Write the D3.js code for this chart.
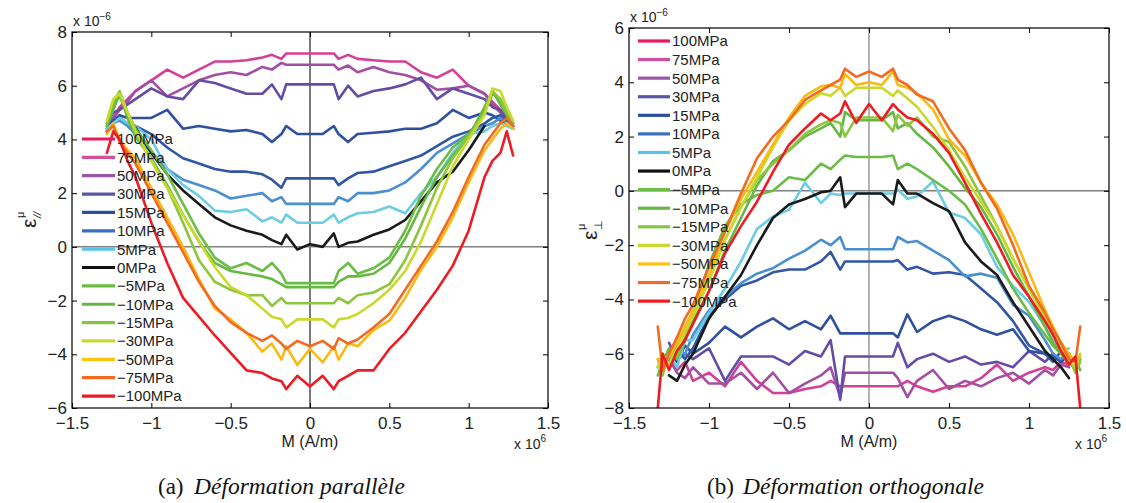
<!DOCTYPE html>
<html><head><meta charset="utf-8">
<script src="https://cdn.jsdelivr.net/npm/d3@7"></script>
<style>
body{margin:0;background:#fff;}
svg{display:block;font-family:"Liberation Sans",Arial,Helvetica,sans-serif;}
</style>
</head><body>
<svg id="chart" width="1126" height="503"></svg>
<script>
// ---------- categories / labels ----------
const seriesLabels = ["100MPa","75MPa","50MPa","30MPa","15MPa","10MPa","5MPa","0MPa",
  "\u22125MPa","\u221210MPa","\u221215MPa","\u221230MPa","\u221250MPa","\u221275MPa","\u2212100MPa"];
const legendColors = ["#e8195e","#d24f9f","#9b55a8","#5a55a5","#2c4ea0","#3a6fc0","#55c5ec","#111111",
  "#6cbd45","#66b843","#86c440","#c7d92f","#fcc30f","#f26a23","#ed1c24"];
const curveColors = ["#d43f98","#a24fa3","#634ca6","#2f4fa0","#3056a8","#4a8fd0","#6ccde2","#1a1a1a",
  "#6abd45","#66b843","#8cc63f","#c9d92a","#fbb914","#f26b21","#ed1c24"];
const xTickValues = [-1.5,-1,-0.5,0,0.5,1,1.5];
const yTicksPar = [-6,-4,-2,0,2,4,6,8];
const yTicksOrth = [-8,-6,-4,-2,0,2,4,6];

// ---------- (a) parallel strain, M in 1e6 A/m, eps in 1e-6 ----------
const mPar = [-1.28,-1.24,-1.2,-1.15,-1.1,-1.0,-0.9,-0.8,-0.7,-0.6,-0.5,-0.4,-0.3,-0.24,-0.18,-0.15,-0.08,0,0.08,0.15,0.18,0.24,0.3,0.4,0.5,0.6,0.7,0.8,0.9,1.0,1.1,1.15,1.2,1.24,1.28];
const par100 = [4.5,4.8,5.2,5.5,5.8,6.2,6.6,6.3,6.6,6.9,6.9,6.95,7.05,7.15,7.0,7.2,7.2,7.2,7.2,7.2,7.0,7.15,7.0,6.95,6.9,6.9,6.5,6.3,6.6,6.0,5.7,5.4,5.1,4.8,4.5];
const par75 = [4.4,4.8,5.1,5.4,5.8,6.2,5.6,5.9,6.2,6.4,6.5,6.4,6.7,6.6,6.85,6.78,6.78,6.78,6.78,6.78,6.6,6.75,6.5,6.7,6.5,6.4,6.2,5.85,5.9,6.0,5.7,5.3,5.0,4.8,4.5];
const par50 = [4.6,5.0,5.1,5.3,5.5,5.9,5.6,5.5,6.2,6.1,5.9,5.7,5.7,6.05,5.5,6.05,6.05,6.05,6.05,6.05,5.5,6.0,5.6,5.8,5.9,6.05,6.3,5.5,5.9,5.7,5.5,5.2,5.1,4.8,4.6];
const par30 = [4.4,4.7,4.9,4.8,4.8,4.8,5.1,4.4,4.5,4.4,4.3,4.35,4.2,3.9,4.2,4.5,4.2,4.2,4.2,4.5,4.2,3.9,4.2,4.25,4.3,4.4,4.4,4.6,5.1,4.8,5.0,4.9,4.7,4.6,4.4];
const par15 = [4.3,4.6,4.8,4.6,4.5,4.2,3.7,3.3,3.1,2.9,2.8,2.8,2.7,2.5,2.2,2.55,2.55,2.55,2.55,2.55,2.3,2.55,2.75,2.8,3.0,3.2,3.4,3.75,4.1,4.3,4.6,4.8,4.9,4.7,4.5];
const par10 = [4.4,4.6,4.7,4.5,4.2,3.5,2.9,2.5,2.3,2.1,1.8,1.9,2.0,1.7,1.85,1.6,1.6,1.6,1.6,1.6,1.85,1.7,2.0,2.0,2.1,2.4,2.9,3.5,3.85,4.2,4.5,4.6,4.8,4.6,4.4];
const par5 = [4.4,4.6,4.8,4.6,4.5,4.0,2.9,2.3,1.9,1.35,1.3,1.4,0.95,1.1,0.9,1.2,0.9,0.9,0.9,1.2,0.9,1.1,1.25,1.3,1.5,1.25,2.0,2.6,3.5,4.2,4.3,4.5,4.6,4.5,4.4];
const par0 = [null,null,null,null,4.45,3.5,2.7,2.1,1.6,1.1,0.8,0.6,0.45,0.25,0.1,0.45,-0.1,0.1,0.0,0.5,0.0,0.15,0.2,0.45,0.65,1.0,1.7,2.4,2.8,3.6,4.5,null,null,null,null];
const parM5 = [4.6,5.3,5.6,5.0,4.4,3.6,2.7,1.6,0.5,-0.4,-0.8,-0.6,-0.9,-0.6,-1.0,-1.35,-1.35,-1.35,-1.35,-1.35,-0.9,-0.6,-1.0,-0.8,-0.4,0.6,1.9,2.9,3.7,4.2,5.0,5.7,5.5,5.0,4.6];
const parM10 = [4.5,5.1,5.7,4.8,4.1,3.3,2.3,1.2,0.2,-0.6,-0.9,-1.0,-1.1,-1.2,-1.4,-1.5,-1.5,-1.5,-1.5,-1.5,-1.3,-1.1,-1.1,-1.0,-0.6,0.3,1.5,2.6,3.4,4.1,5.2,5.8,5.3,4.9,4.5];
const parM15 = [4.6,5.4,5.8,5.0,4.3,3.2,2.2,0.9,-0.5,-1.3,-1.6,-1.8,-1.8,-2.2,-1.9,-2.1,-2.1,-2.1,-2.1,-2.1,-1.9,-2.1,-1.8,-1.7,-1.4,-0.5,0.8,2.2,3.3,4.1,5.0,5.8,5.5,5.0,4.6];
const parM30 = [4.7,5.5,5.7,5.0,4.3,3.2,2.2,1.2,0.2,-0.75,-1.5,-1.8,-2.3,-2.6,-2.7,-3.0,-2.7,-2.7,-2.7,-3.0,-2.7,-2.65,-2.5,-2.1,-1.6,-0.9,0.2,1.6,3.0,4.0,4.9,5.9,5.8,5.2,4.7];
const parM50 = [4.2,4.6,4.0,3.6,3.3,2.2,1.1,0.0,-1.2,-2.3,-2.7,-3.2,-3.9,-3.6,-4.2,-3.7,-4.4,-3.8,-4.3,-3.7,-4.2,-3.6,-3.7,-3.1,-2.75,-1.9,-0.85,0.0,1.1,2.4,3.6,4.0,4.4,4.6,4.4];
const parM75 = [4.3,4.5,3.9,3.5,3.1,2.0,0.9,-0.2,-1.3,-2.2,-2.8,-3.2,-3.5,-3.3,-3.6,-3.8,-3.5,-3.7,-3.5,-3.8,-3.4,-3.6,-3.45,-3.0,-2.5,-1.6,-0.7,0.2,1.3,2.6,3.8,4.2,4.6,4.8,4.5];
const parM100 = [3.5,4.3,4.0,3.2,2.6,0.9,-0.6,-1.9,-2.6,-3.3,-3.95,-4.6,-4.7,-4.9,-5.0,-5.3,-4.8,-5.2,-4.8,-5.3,-5.0,-4.8,-4.6,-4.6,-3.8,-3.2,-2.4,-1.6,-0.7,0.6,2.6,3.2,3.5,4.3,3.4];

// ---------- (b) orthogonal strain ----------
const mOrth = [-1.32,-1.29,-1.25,-1.2,-1.15,-1.1,-1.0,-0.9,-0.8,-0.7,-0.6,-0.5,-0.4,-0.3,-0.24,-0.18,-0.15,-0.08,0,0.08,0.15,0.18,0.24,0.3,0.4,0.5,0.6,0.7,0.8,0.9,1.0,1.1,1.15,1.2,1.25,1.29,1.32];
const orth100 = [null,null,-6.0,-6.6,-6.3,-7.0,-6.7,-7.2,-6.3,-7.0,-7.45,-7.45,-7.3,-7.2,-7.0,-7.2,-7.2,-7.2,-7.2,-7.2,-7.2,-7.2,-7.0,-7.2,-7.4,-7.2,-7.2,-6.9,-6.4,-7.0,-6.7,-6.5,-6.6,-6.3,-6.4,null,null];
const orth75 = [null,null,-6.2,-6.7,-6.9,-6.5,-7.1,-7.1,-6.7,-7.3,-6.7,-7.45,-7.1,-6.8,-6.5,-7.6,-6.7,-6.7,-6.7,-6.7,-6.7,-6.9,-7.6,-7.0,-6.6,-7.3,-7.0,-7.2,-6.9,-6.7,-7.1,-6.6,-6.8,-6.4,-6.5,null,null];
const orth50 = [null,null,-5.6,-6.2,-6.0,-6.2,-5.8,-7.0,-6.1,-6.1,-6.1,-6.4,-5.9,-6.1,-5.5,-7.7,-6.1,-6.1,-6.1,-6.1,-6.1,-5.6,-6.5,-6.2,-6.0,-6.3,-6.1,-6.4,-6.3,-6.5,-5.9,-6.3,-6.0,-6.3,-6.0,null,null];
const orth30 = [null,null,-5.9,-6.3,-5.7,-6.0,-5.6,-5.0,-5.4,-5.0,-4.7,-5.1,-4.8,-5.1,-4.6,-5.25,-5.25,-5.25,-5.25,-5.25,-5.25,-5.4,-4.55,-5.2,-4.8,-4.6,-4.8,-5.1,-5.3,-5.1,-5.9,-6.0,-6.1,-6.3,-6.0,null,null];
const orth15 = [null,null,-6.0,-5.8,-6.2,-5.8,-4.6,-4.0,-3.5,-3.3,-3.0,-2.9,-2.9,-2.6,-2.25,-2.9,-2.6,-2.6,-2.6,-2.6,-2.6,-2.55,-2.9,-2.8,-3.05,-3.0,-3.1,-3.6,-4.1,-4.8,-5.7,-6.0,-6.3,-5.9,-6.2,null,null];
const orth10 = [null,null,-6.3,-5.9,-6.0,-5.3,-4.4,-3.9,-3.4,-3.05,-2.85,-2.5,-2.2,-1.8,-2.0,-1.7,-2.15,-2.15,-2.15,-2.15,-2.15,-1.7,-1.9,-1.85,-2.2,-2.55,-3.15,-3.05,-3.2,-4.2,-4.6,-5.5,-6.0,-6.2,-6.0,null,null];
const orth5 = [null,null,-6.0,-6.5,-5.5,-5.5,-4.5,-3.6,-2.6,-1.4,-0.95,-0.7,0.3,-0.45,-0.1,-0.15,-0.1,-0.1,-0.1,-0.1,-0.1,0.05,-0.3,-0.2,0.35,-0.8,-1.0,-1.6,-2.8,-3.5,-4.1,-5.0,-5.5,-6.0,-5.8,null,null];
const orth0 = [null,null,-6.8,-7.0,-6.4,-6.0,-4.7,-3.9,-3.1,-2.0,-1.0,-0.5,-0.3,-0.05,0.0,0.5,-0.6,-0.1,-0.1,-0.1,-0.5,0.4,-0.1,-0.1,-0.45,-0.75,-1.9,-2.6,-3.1,-4.1,-5.0,-5.9,-6.2,-6.5,-6.9,null,null];
const orthM5 = [-6.8,-6.3,-5.8,-6.2,-5.5,-4.6,-2.7,-1.3,-0.5,-0.15,0.0,0.5,0.4,1.0,0.8,1.15,1.3,1.25,1.25,1.25,1.3,0.8,1.0,0.8,0.4,0.0,-0.5,-1.4,-2.5,-3.6,-4.5,-5.3,-5.7,-6.0,-6.3,-6.6,-6.2];
const orthM10 = [-6.5,-6.0,-6.4,-5.7,-5.2,-4.8,-3.7,-2.2,-1.0,0.2,1.1,1.5,2.0,2.3,2.5,2.0,2.9,2.6,2.6,2.6,2.9,2.3,2.5,2.1,1.6,0.9,0.1,-0.6,-1.6,-2.8,-3.9,-5.0,-5.6,-6.0,-6.4,-6.2,-6.6];
const orthM15 = [-6.2,-6.8,-6.0,-6.1,-5.4,-4.6,-3.3,-1.8,-0.6,0.4,1.0,1.5,2.1,2.45,2.6,2.5,2.0,2.7,2.7,2.7,2.2,2.8,2.4,2.7,2.0,1.8,0.9,-0.2,-1.3,-2.5,-3.6,-4.7,-5.3,-5.8,-6.1,-6.7,-6.3];
const orthM30 = [-6.5,-6.0,-6.4,-5.8,-5.2,-4.6,-3.3,-1.8,-0.6,0.5,1.6,2.6,3.2,3.6,3.5,3.8,3.5,3.8,3.8,3.8,3.5,3.7,3.4,3.1,2.35,1.5,0.5,-0.4,-1.3,-2.5,-3.6,-4.7,-5.3,-5.8,-6.2,-6.5,-6.0];
const orthM50 = [-6.2,-6.5,-6.1,-5.6,-5.0,-4.4,-3.1,-1.5,-0.3,0.7,1.7,2.7,3.5,3.85,3.9,3.8,4.3,3.9,4.0,3.9,4.4,3.9,3.8,3.6,3.0,1.9,1.3,0.3,-0.5,-1.6,-3.0,-4.4,-5.0,-5.6,-6.0,-6.3,-6.1];
const orthM75 = [-5.0,-6.6,-6.0,-5.4,-4.7,-4.2,-2.8,-1.5,-0.1,1.2,2.0,2.6,3.35,3.7,3.9,4.1,4.5,4.2,4.4,4.2,4.5,4.1,3.9,3.55,3.3,2.3,1.5,0.3,-0.65,-2.0,-3.5,-4.5,-5.1,-5.6,-6.2,-6.3,-5.0];
const orthM100 = [-8.0,-6.0,-6.6,-5.9,-5.5,-4.9,-3.7,-2.3,-1.3,-0.4,0.7,1.7,2.3,2.85,2.6,2.85,3.3,2.5,3.2,2.6,3.2,3.0,2.7,2.6,2.1,1.4,0.3,-0.85,-1.9,-3.1,-3.9,-4.8,-5.3,-5.9,-6.4,-6.1,-8.0];

const parSeries = [par100,par75,par50,par30,par15,par10,par5,par0,parM5,parM10,parM15,parM30,parM50,parM75,parM100];
const orthSeries = [orth100,orth75,orth50,orth30,orth15,orth10,orth5,orth0,orthM5,orthM10,orthM15,orthM30,orthM50,orthM75,orthM100];

// ---------- drawing ----------
const svg = d3.select("#chart");
const fmt = d3.format("");

const panels = [
  {id:"a", m:mPar, series:parSeries, yDomain:[-6,8], yTicks:yTicksPar,
   box:{x0:72,x1:548,y0:32,y1:408}, vColor:"#222", leg:{x1:82,x2:115,tx:117,y:139,dy:18.36},
   ylab:{x:36,y:228,sub:"//"}, cap:{x:158,x2:194,text:"D\u00e9formation parall\u00e8le",lab:"(a)"}},
  {id:"b", m:mOrth, series:orthSeries, yDomain:[-8,6], yTicks:yTicksOrth,
   box:{x0:629,x1:1109,y0:28,y1:408}, vColor:"#808080", leg:{x1:638,x2:670,tx:672,y:41,dy:18.58},
   ylab:{x:597,y:240,sub:"\u22a5"}, cap:{x:707,x2:743,text:"D\u00e9formation orthogonale",lab:"(b)"}}
];

panels.forEach(p => {
  const b = p.box;
  const x = d3.scaleLinear().domain([-1.5,1.5]).range([b.x0,b.x1]);
  const y = d3.scaleLinear().domain(p.yDomain).range([b.y1,b.y0]);
  const g = svg.append("g");

  g.append("clipPath").attr("id","clip"+p.id).append("rect")
    .attr("x",b.x0).attr("y",b.y0).attr("width",b.x1-b.x0).attr("height",b.y1-b.y0);

  // zero lines
  g.append("line").attr("x1",x(0)).attr("x2",x(0)).attr("y1",b.y0).attr("y2",b.y1)
    .attr("stroke",p.vColor).attr("stroke-width",1.2);
  g.append("line").attr("x1",b.x0).attr("x2",b.x1).attr("y1",y(0)).attr("y2",y(0))
    .attr("stroke","#808080").attr("stroke-width",1.5);

  // curves
  const line = d3.line().defined(d => d[1] !== null).x(d => x(d[0])).y(d => y(d[1]));
  const cg = g.append("g").attr("clip-path","url(#clip"+p.id+")");
  p.series.forEach((s,i) => {
    const pts = p.m.map((mv,k) => [mv, s[k]]);
    cg.append("path").attr("d",line(pts)).attr("fill","none")
      .attr("stroke",curveColors[i]).attr("stroke-width",2.6)
      .attr("stroke-linejoin","round").attr("stroke-linecap","round");
  });

  // axes
  const tickFont = s => s.selectAll("text").attr("font-size",17).attr("fill","#222")
      .attr("font-family","'Liberation Sans',Arial,sans-serif");
  const ax = g.append("g").attr("transform",`translate(0,${b.y1})`)
    .call(d3.axisBottom(x).tickValues(xTickValues).tickFormat(fmt).tickSizeInner(-5).tickSizeOuter(0).tickPadding(9));
  tickFont(ax);
  const axT = g.append("g").attr("transform",`translate(0,${b.y0})`)
    .call(d3.axisTop(x).tickValues(xTickValues).tickFormat("").tickSizeInner(-5).tickSizeOuter(0));
  const ay = g.append("g").attr("transform",`translate(${b.x0},0)`)
    .call(d3.axisLeft(y).tickValues(p.yTicks).tickFormat(fmt).tickSizeInner(-5).tickSizeOuter(0).tickPadding(5));
  tickFont(ay);
  const ayR = g.append("g").attr("transform",`translate(${b.x1},0)`)
    .call(d3.axisRight(y).tickValues(p.yTicks).tickFormat("").tickSizeInner(-5).tickSizeOuter(0));
  [ax,axT,ay,ayR].forEach(a => { a.select(".domain").remove(); a.selectAll("line").attr("stroke","#000"); });

  g.append("rect").attr("x",b.x0).attr("y",b.y0).attr("width",b.x1-b.x0).attr("height",b.y1-b.y0)
    .attr("fill","none").attr("stroke","#000").attr("stroke-width",1.2);

  // exponent labels
  const e1 = g.append("text").attr("x",b.x0+1).attr("y",b.y0-6).attr("font-size",14).attr("fill","#222");
  e1.append("tspan").text("x 10");
  e1.append("tspan").attr("dy",-6).attr("font-size",10).text("\u22126");
  const e2 = g.append("text").attr("x",b.x1-34).attr("y",b.y1+41).attr("font-size",14).attr("fill","#222");
  e2.append("tspan").text("x 10");
  e2.append("tspan").attr("dy",-7).attr("font-size",10).text("6");

  // x label
  g.append("text").attr("x",x(0)).attr("y",b.y1+39).attr("text-anchor","middle")
    .attr("font-size",16).attr("fill","#222").text("M (A/m)");

  // y label (rotated)
  const yl = g.append("g").attr("transform",`translate(${p.ylab.x},${p.ylab.y}) rotate(-90)`);
  yl.append("text").attr("x",0).attr("y",0).attr("font-size",21).attr("fill","#222").text("\u03b5");
  yl.append("text").attr("x",10).attr("y",-12).attr("font-size",11).attr("fill","#222").text("\u03bc");
  yl.append("text").attr("x",10).attr("y",5).attr("font-size",11).attr("fill","#222")
    .attr("font-style",p.id==="a"?"italic":"normal").text(p.ylab.sub);

  // legend
  const L = p.leg;
  seriesLabels.forEach((lab,i) => {
    const yy = L.y + i*L.dy;
    g.append("line").attr("x1",L.x1).attr("x2",L.x2).attr("y1",yy).attr("y2",yy)
      .attr("stroke",legendColors[i]).attr("stroke-width",3.2);
    g.append("text").attr("x",L.tx).attr("y",yy).attr("dy","0.36em").attr("font-size",15)
      .attr("fill","#222").text(lab);
  });

  // caption
  g.append("text").attr("x",p.cap.x).attr("y",494).attr("font-family","'Liberation Serif','Times New Roman',serif")
    .attr("font-size",23).attr("fill","#111").text(p.cap.lab);
  g.append("text").attr("x",p.cap.x2).attr("y",494).attr("font-family","'Liberation Serif','Times New Roman',serif")
    .attr("font-size",23.5).attr("font-style","italic").attr("fill","#111").text(p.cap.text);
});
</script>
</body></html>
